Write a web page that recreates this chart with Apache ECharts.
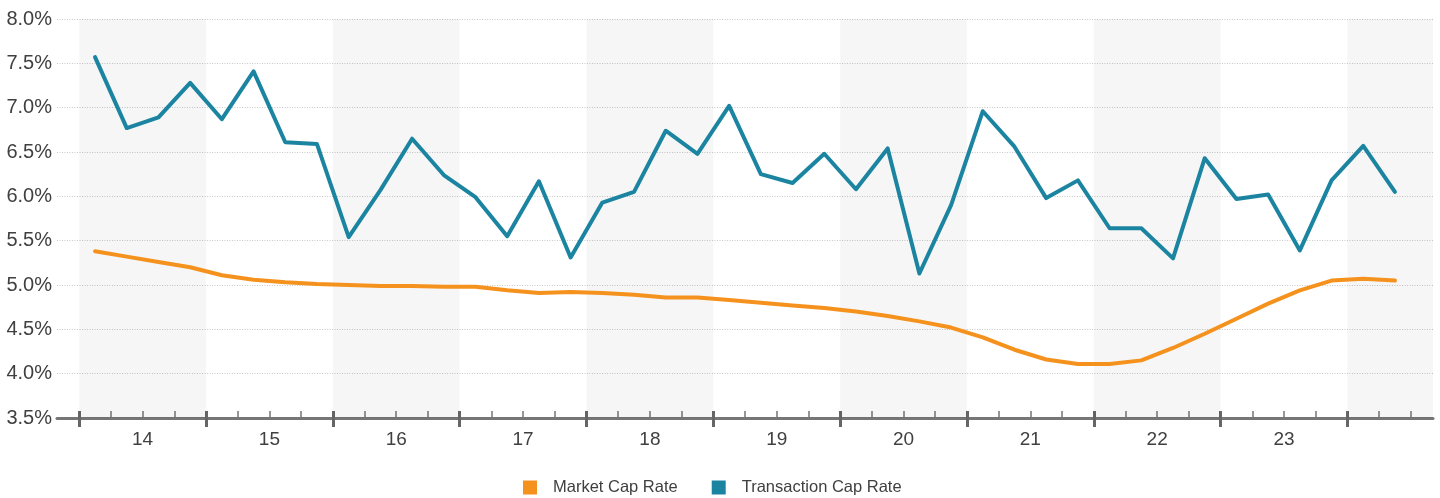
<!DOCTYPE html>
<html>
<head>
<meta charset="utf-8">
<script src="https://cdn.jsdelivr.net/npm/echarts@6/dist/echarts.min.js"></script>
<style>
html,body{margin:0;padding:0;background:#fff;}
#chart{width:1440px;height:498px;}
</style>
</head>
<body>
<div id="chart"></div>
<script>
// Quarterly data, 2014 Q1 .. 2024 Q2
const quarters = [
  '2014 Q1','2014 Q2','2014 Q3','2014 Q4','2015 Q1','2015 Q2','2015 Q3','2015 Q4',
  '2016 Q1','2016 Q2','2016 Q3','2016 Q4','2017 Q1','2017 Q2','2017 Q3','2017 Q4',
  '2018 Q1','2018 Q2','2018 Q3','2018 Q4','2019 Q1','2019 Q2','2019 Q3','2019 Q4',
  '2020 Q1','2020 Q2','2020 Q3','2020 Q4','2021 Q1','2021 Q2','2021 Q3','2021 Q4',
  '2022 Q1','2022 Q2','2022 Q3','2022 Q4','2023 Q1','2023 Q2','2023 Q3','2023 Q4',
  '2024 Q1','2024 Q2'
];
const marketCapRate = [
  5.38,5.32,5.26,5.20,5.11,5.06,5.03,5.01,
  5.00,4.99,4.99,4.98,4.98,4.94,4.91,4.92,
  4.91,4.89,4.86,4.86,4.83,4.80,4.77,4.74,
  4.70,4.65,4.59,4.52,4.41,4.27,4.16,4.11,
  4.11,4.15,4.29,4.45,4.62,4.79,4.94,5.05,
  5.07,5.05
];
const transactionCapRate = [
  7.57,6.77,6.89,7.28,6.87,7.41,6.61,6.59,
  5.54,6.07,6.65,6.24,5.99,5.55,6.17,5.31,
  5.93,6.05,6.74,6.48,7.02,6.25,6.15,6.48,
  6.08,6.54,5.13,5.90,6.96,6.56,5.98,6.18,
  5.64,5.64,5.30,6.43,5.97,6.02,5.39,6.18,
  6.57,6.05
];
const yearLabels = ['14','15','16','17','18','19','20','21','22','23'];
const yTicks = { min: 3.5, max: 8.0, interval: 0.5 };

const X_MIN = -0.7, X_MAX = 42.7;  // axis range in quarter units (0 = start of 2014)
const toPairs = arr => arr.map((v, i) => [i + 0.5, v]);

const nYears = yearLabels.length + 1; // includes partial 2024
const majorTicks = [];
for (let y = 0; y < nYears; y++) majorTicks.push(y * 4);
const minorTicks = [];
for (let q = 0; q <= 42; q++) if (q % 4 !== 0) minorTicks.push(q);
const labelPos = yearLabels.map((_, i) => i * 4 + 2);
const bands = [];
for (let y = 0; y < nYears; y += 2) bands.push([{ xAxis: y * 4 }, { xAxis: Math.min(y * 4 + 4, X_MAX) }]);

const ORANGE = '#F5921E', BLUE = '#1B84A1';
const FONT = 'Arial, "Liberation Sans", sans-serif';

const chart = echarts.init(document.getElementById('chart'), null, { renderer: 'canvas' });
chart.setOption({
  animation: false,
  backgroundColor: '#ffffff',
  grid: { left: 57, right: 7, top: 19, bottom: 80, containLabel: false },
  xAxis: [
    {
      type: 'value', min: X_MIN, max: X_MAX, position: 'bottom',
      axisLine: { show: true, onZero: false, lineStyle: { color: '#767676', width: 3 } },
      axisTick: { show: true, inside: true, length: 7, customValues: minorTicks, lineStyle: { color: '#767676', width: 1.5 } },
      axisLabel: {
        show: true, customValues: labelPos, margin: 12,
        formatter: v => yearLabels[Math.round((v - 2) / 4)] || '',
        color: '#404040', fontSize: 19, fontFamily: FONT
      },
      splitLine: { show: false }
    },
    {
      type: 'value', min: X_MIN, max: X_MAX, position: 'bottom', offset: -7,
      axisLine: { show: false, onZero: false },
      axisTick: { show: true, inside: false, length: 16, customValues: majorTicks, lineStyle: { color: '#666666', width: 3 } },
      axisLabel: { show: false },
      splitLine: { show: false }
    }
  ],
  yAxis: {
    type: 'value', min: yTicks.min, max: yTicks.max, interval: yTicks.interval,
    axisLine: { show: false }, axisTick: { show: false },
    axisLabel: {
      formatter: v => v.toFixed(1) + '%', margin: 5,
      color: '#404040', fontSize: 20, fontFamily: FONT
    },
    splitLine: { show: true, lineStyle: { color: '#c8c8c8', type: [1, 1.5], width: 1 } }
  },
  legend: {
    left: 523, top: 479, padding: 0, icon: 'rect', itemWidth: 14, itemHeight: 14, itemGap: 34,
    textStyle: { color: '#404040', fontSize: 16.5, fontFamily: FONT, padding: [0, 0, 0, 11] },
    data: ['Market Cap Rate', 'Transaction Cap Rate']
  },
  series: [
    {
      name: 'Market Cap Rate', type: 'line', xAxisIndex: 0,
      data: toPairs(marketCapRate), showSymbol: false, symbol: 'none',
      lineStyle: { color: ORANGE, width: 4, cap: 'round', join: 'round' },
      itemStyle: { color: ORANGE }, z: 3,
      markArea: { silent: true, itemStyle: { color: 'rgba(0,0,0,0.035)' }, data: bands }
    },
    {
      name: 'Transaction Cap Rate', type: 'line', xAxisIndex: 0,
      data: toPairs(transactionCapRate), showSymbol: false, symbol: 'none',
      lineStyle: { color: BLUE, width: 4, cap: 'round', join: 'round' },
      itemStyle: { color: BLUE }, z: 3
    }
  ]
});
</script>
</body>
</html>
